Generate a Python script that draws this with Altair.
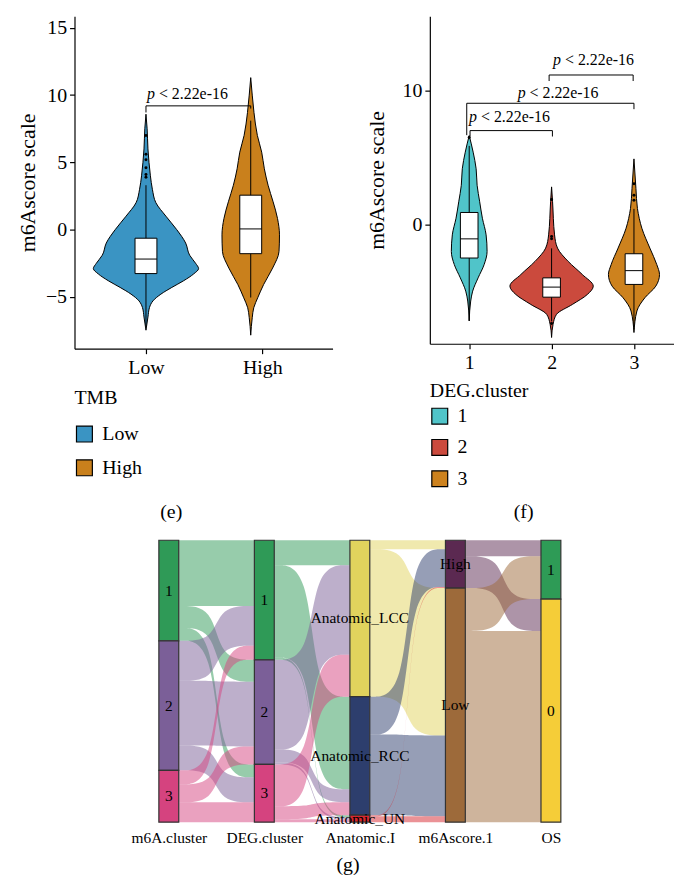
import altair as alt
import pandas as pd

FONT = "Liberation Serif"

# ---------------- (e) m6Ascore scale by TMB ----------------
TMB_GROUPS = ["Low", "High"]
TMB_COLORS = ["#3a94c3", "#c9801c"]
TMB_CENTERS = [1.0, 1.9]          # High is drawn slightly dodged left of its tick

E_LOW_Y = [8.58, 7.5, 6.0, 5.0, 4.0, 3.0, 2.0, 1.0, 0.0, -1.0, -1.9, -2.5, -2.9, -3.3,
           -3.8, -4.3, -4.8, -5.3, -5.8, -6.5, -7.48]
E_LOW_HW = [0, 0.010, 0.017, 0.026, 0.038, 0.055, 0.085, 0.171, 0.264, 0.341, 0.375, 0.426,
            0.452, 0.409, 0.324, 0.222, 0.128, 0.060, 0.030, 0.017, 0]
E_HIGH_Y = [11.3, 10.0, 8.7, 7.0, 5.76, 4.52, 3.3, 2.07, 0.83, -0.39, -1.62, -2.86, -4.08,
            -5.07, -5.81, -6.55, -7.85]
E_HIGH_HW = [0, 0.013, 0.028, 0.057, 0.094, 0.117, 0.149, 0.192, 0.230, 0.247, 0.243, 0.188,
             0.111, 0.060, 0.026, 0.013, 0]

E_Q1 = [-3.27, -1.79]
E_MED = [-2.19, 0.05]
E_Q3 = [-0.64, 2.56]
E_WLO = [-7.2, -5.05]
E_WHI = [3.3, 8.1]
E_OUT_GRP = ["Low", "Low", "Low", "Low", "Low", "Low"]
E_OUT_Y = [3.9, 4.1, 4.6, 5.2, 5.6, 7.0]

E_BRACKETS = [dict(x1=1.0, x2=1.9, y=9.2, yl=8.71, yr=9.0, lx=1.35, ly=10.06)]

# ---------------- (f) m6Ascore scale by DEG.cluster ----------------
DEG_GROUPS = ["1", "2", "3"]
DEG_COLORS = ["#50c4c9", "#cb4a3d", "#cd821e"]
DEG_CENTERS = [1.0, 2.0, 3.0]

F1_Y = [6.67, 5.43, 4.19, 2.96, 1.73, 0.5, -0.74, -1.98, -2.96, -3.95, -4.94, -5.68, -7.16]
F1_HW = [0, 0.048, 0.084, 0.096, 0.127, 0.160, 0.205, 0.217, 0.181, 0.108, 0.042, 0.018, 0]
F2_Y = [2.84, 1.73, -0.74, -1.73, -2.72, -3.7, -4.57, -5.19, -5.93, -6.67, -7.41, -8.4]
F2_HW = [0, 0.012, 0.036, 0.072, 0.201, 0.373, 0.506, 0.434, 0.253, 0.060, 0.018, 0]
F3_Y = [4.93, 2.71, 1.23, -0.25, -1.73, -2.96, -3.7, -4.57, -5.43, -6.42, -8.03]
F3_HW = [0, 0.024, 0.042, 0.096, 0.193, 0.277, 0.310, 0.265, 0.133, 0.036, 0]

F_Q1 = [-2.47, -5.39, -4.44]
F_MED = [-1.04, -4.64, -3.41]
F_Q3 = [0.93, -3.95, -2.15]
F_WLO = [-7.16, -7.2, -7.8]
F_WHI = [5.9, -1.75, 1.2]
F_OUT_GRP = ["1", "2", "2", "2", "2", "3", "3", "3"]
F_OUT_Y = [6.53, 1.9, -0.87, -1.04, -7.36, 3.08, 2.22, 1.85]

F_BRACKETS = [
    dict(x1=1.01, x2=2.01, y=7.04, yl=6.6, yr=6.6, lx=1.48, ly=8.02),
    dict(x1=0.97, x2=3.0, y=9.08, yl=6.7, yr=8.64, lx=2.07, ly=9.87),
    dict(x1=1.97, x2=2.99, y=11.19, yl=10.74, yr=10.74, lx=2.5, ly=12.3),
]
P_TEXT = "< 2.22e-16"

# ---------------- (g) alluvial ----------------
AXES = ["m6A.cluster", "DEG.cluster", "Anatomic.I", "m6Ascore.1", "OS"]
STRATA = [["1", "2", "3"], ["1", "2", "3"],
          ["Anatomic_LCC", "Anatomic_RCC", "Anatomic_UN"], ["High", "Low"], ["1", "0"]]
STRATA_COLORS = [["#2f9a57", "#7b5f98", "#d5437f"],
                 ["#2f9a57", "#7b5f98", "#d5437f"],
                 ["#e1d35d", "#2d3e6d", "#d7262e"],
                 ["#5b2951", "#9d6a3a"],
                 ["#2e9b56", "#f5cd38"]]
# counts flowing from each stratum of one axis (rows) to the next axis (columns)
FLOWS = [
    [[66, 22, 13], [40, 65, 25], [14, 18, 20]],
    [[25, 93, 2], [90, 13, 2], [42, 13, 3]],
    [[9, 148], [38, 81], [1, 6]],
    [[16, 32], [43, 192]],
]


def violin_df(groups, centers, ys, hws):
    rows = []
    for g, c, yy, ww in zip(groups, centers, ys, hws):
        for y, w in zip(yy, ww):
            rows.append({"grp": g, "y": y, "lo": c - w, "hi": c + w})
    return pd.DataFrame(rows)


def box_df(groups, centers, q1, med, q3, wlo, whi, hw):
    return pd.DataFrame({
        "grp": groups, "cx": centers, "q1": q1, "med": med, "q3": q3,
        "wlo": wlo, "whi": whi,
        "l": [c - hw for c in centers], "r": [c + hw for c in centers]})


def bracket_df(brs):
    rows = []
    for b in brs:
        rows.append({"x": b["x1"], "x2": b["x2"], "y": b["y"], "y2": b["y"]})
        rows.append({"x": b["x1"], "x2": b["x1"], "y": b["yl"], "y2": b["y"]})
        rows.append({"x": b["x2"], "x2": b["x2"], "y": b["yr"], "y2": b["y"]})
    return pd.DataFrame(rows)


def violin_panel(groups, colors, centers, ys, hws, boxes, out_grp, out_y, brs,
                 xdom, ydom, width, height, ytitle_pad, legend_title, legend_y,
                 title_pad, row_pad, panel_label, plx, ply, ytick_vals):
    label_expr = "[" + ",".join("'%s'" % g for g in groups) + "][datum.value - 1]"
    xs = alt.Scale(domain=xdom, nice=False, zero=False)
    ys_ = alt.Scale(domain=ydom, nice=False, zero=False)
    xa = alt.Axis(values=list(range(1, len(groups) + 1)), labelExpr=label_expr,
                  labelFontSize=20, labelPadding=4, tickSize=5, labelFlush=False,
                  title=panel_label, titleFontSize=20, titleX=plx, titleY=ply,
                  titleBaseline="middle", titleAlign="center", titleAnchor="start")
    ya = alt.Axis(values=ytick_vals, labelFontSize=20, labelPadding=3, tickSize=5,
                  title="m6Ascore scale", titleFontSize=22, titlePadding=ytitle_pad)

    vdf = violin_df(groups, centers, ys, hws)
    cmap = dict(zip(groups, centers))
    viol = alt.Chart(vdf).mark_area(orient="horizontal", interpolate="monotone",
                                    stroke="black", strokeWidth=1, opacity=1).encode(
        y=alt.Y("y:Q", scale=ys_, axis=ya),
        x=alt.X("lo:Q", scale=xs, axis=xa, stack=None),
        x2="hi:Q",
        color=alt.Color("grp:N", scale=alt.Scale(domain=groups, range=colors),
                        legend=alt.Legend(title=legend_title, orient="none", legendX=0,
                                          legendY=legend_y, direction="vertical",
                                          symbolType="square", symbolSize=256,
                                          symbolStrokeColor="black", symbolStrokeWidth=1.2,
                                          symbolOpacity=1, titleFontSize=20,
                                          labelFontSize=20, titlePadding=title_pad,
                                          rowPadding=row_pad, labelOffset=8)),
    )
    bdf = boxes
    whisk = alt.Chart(bdf).mark_rule(color="black", strokeWidth=1).encode(
        x=alt.X("cx:Q", scale=xs, axis=xa), y=alt.Y("wlo:Q", scale=ys_, axis=ya), y2="whi:Q")
    box = alt.Chart(bdf).mark_rect(fill="white", stroke="black", strokeWidth=1).encode(
        x=alt.X("l:Q", scale=xs, axis=xa), x2="r:Q",
        y=alt.Y("q1:Q", scale=ys_, axis=ya), y2="q3:Q")
    med = alt.Chart(bdf).mark_rule(color="black", strokeWidth=1).encode(
        x=alt.X("l:Q", scale=xs, axis=xa), x2="r:Q", y=alt.Y("med:Q", scale=ys_, axis=ya))
    odf = pd.DataFrame({"cx": [cmap[g] for g in out_grp], "y": out_y})
    outs = alt.Chart(odf).mark_circle(color="black", size=9, opacity=1).encode(
        x=alt.X("cx:Q", scale=xs, axis=xa), y=alt.Y("y:Q", scale=ys_, axis=ya))
    brdf = bracket_df(brs)
    br = alt.Chart(brdf).mark_rule(color="black", strokeWidth=1).encode(
        x=alt.X("x:Q", scale=xs, axis=xa), x2="x2:Q",
        y=alt.Y("y:Q", scale=ys_, axis=ya), y2="y2:Q")
    ldf = pd.DataFrame({"lx": [b["lx"] for b in brs], "ly": [b["ly"] for b in brs]})
    pt = alt.Chart(ldf).mark_text(font=FONT, fontSize=16, fontStyle="italic", align="left",
                                  baseline="middle", dx=-40, color="black").encode(
        x=alt.X("lx:Q", scale=xs, axis=xa), y=alt.Y("ly:Q", scale=ys_, axis=ya),
        text=alt.value("p"))
    rt = alt.Chart(ldf).mark_text(font=FONT, fontSize=16, align="left",
                                  baseline="middle", dx=-28, color="black").encode(
        x=alt.X("lx:Q", scale=xs, axis=xa), y=alt.Y("ly:Q", scale=ys_, axis=ya),
        text=alt.value(P_TEXT))
    return alt.layer(viol, whisk, box, med, outs, br, pt, rt).properties(
        width=width, height=height)


e_chart = violin_panel(
    TMB_GROUPS, TMB_COLORS, TMB_CENTERS, [E_LOW_Y, E_HIGH_Y], [E_LOW_HW, E_HIGH_HW],
    box_df(TMB_GROUPS, TMB_CENTERS, E_Q1, E_MED, E_Q3, E_WLO, E_WHI, 0.094),
    E_OUT_GRP, E_OUT_Y, E_BRACKETS,
    [0.386, 2.603], [-8.856, 15.867], 260, 335, 6, "TMB", 375, 16, 12,
    "(e)", 97, 164, [-5, 0, 5, 10, 15])

f_chart = violin_panel(
    DEG_GROUPS, DEG_COLORS, DEG_CENTERS, [F1_Y, F2_Y, F3_Y], [F1_HW, F2_HW, F3_HW],
    box_df(DEG_GROUPS, DEG_CENTERS, F_Q1, F_MED, F_Q3, F_WLO, F_WHI, 0.107),
    F_OUT_GRP, F_OUT_Y, F_BRACKETS,
    [0.522, 3.486], [-8.867, 15.578], 246, 330, 14, "DEG.cluster", 368, 5, 9.5,
    "(f)", 94, 169, [0, 10])

# ---------------- alluvial data tables ----------------
BW = 0.104          # half width of a stratum bar, in axis units
G_LEFT = 0.883      # empty room left of the first axis, in axis units
totals = [[sum(r) for r in M] for M in FLOWS]
last = FLOWS[-1]
totals.append([sum(last[a][b] for a in range(len(last))) for b in range(len(last[0]))])
TOTAL = sum(totals[0])

strata_rows = []
for k, tots in enumerate(totals):
    s = 0
    for i, t in enumerate(tots):
        strata_rows.append({"k": k, "x0": k - BW, "x1": k + BW, "s0": s, "s1": s + t,
                            "mid": s + t / 2, "name": STRATA[k][i],
                            "col": STRATA_COLORS[k][i]})
        s += t
sdf = pd.DataFrame(strata_rows)

# ribbon control points (fractions of the gap) for a basis-spline S curve
KNOTS = [(0.0, 0), (0.45, 0), (0.55, 1), (1.0, 1)]
rib = []
fid = 0
for k, M in enumerate(FLOWS):
    nL, nR = len(M), len(M[0])
    totL = [sum(r) for r in M]
    totR = [sum(M[a][b] for a in range(nL)) for b in range(nR)]
    startL = [sum(totL[:a]) for a in range(nL)]
    startR = [sum(totR[:b]) for b in range(nR)]
    xl, xr = k + BW, k + 1 - BW
    d = xr - xl
    for a in range(nL):
        for b in range(nR):
            v = M[a][b]
            if v <= 0:
                continue
            l0 = startL[a] + sum(M[a][:b])
            r0 = startR[b] + sum(M[i][b] for i in range(a))
            for fx, side in KNOTS:
                y0 = r0 if side else l0
                rib.append({"fid": fid, "x": xl + fx * d, "y0": y0, "y1": y0 + v,
                            "col": STRATA_COLORS[k][a]})
            fid += 1
rdf = pd.DataFrame(rib)

gxs = alt.Scale(domain=[-BW - G_LEFT, len(AXES) - 1 + BW], nice=False, zero=False)
gys = alt.Scale(domain=[0, TOTAL], reverse=True, nice=False, zero=False)
g_label_expr = "[" + ",".join("'%s'" % a for a in AXES) + "][datum.value]"
gxa = alt.Axis(values=list(range(len(AXES))), labelExpr=g_label_expr, domain=False,
               ticks=False, labelFontSize=15.5, labelPadding=9, labelFlush=False,
               labelOverlap=False, title="(g)", titleFontSize=20, titleX=275, titleY=43,
               titleBaseline="middle", titleAlign="center", titleAnchor="start")

ribbons = alt.Chart(rdf).mark_area(interpolate="basis", opacity=0.5).encode(
    x=alt.X("x:Q", scale=gxs, axis=gxa),
    y=alt.Y("y0:Q", scale=gys, axis=None, stack=None),
    y2="y1:Q",
    fill=alt.Fill("col:N", scale=None),
    detail="fid:N",
)
strata = alt.Chart(sdf).mark_rect(stroke="#333333", strokeWidth=1.2).encode(
    x=alt.X("x0:Q", scale=gxs, axis=gxa), x2="x1:Q",
    y=alt.Y("s0:Q", scale=gys, axis=None), y2="s1:Q",
    fill=alt.Fill("col:N", scale=None),
)
slabels = alt.Chart(sdf).mark_text(font=FONT, fontSize=15.5, color="black").encode(
    x=alt.X("k:Q", scale=gxs, axis=gxa),
    y=alt.Y("mid:Q", scale=gys, axis=None),
    text="name:N",
)
g_chart = alt.layer(ribbons, strata, slabels).properties(width=490, height=284)

top = alt.hconcat(e_chart, f_chart, spacing=98, bounds="flush").resolve_scale(
    color="independent", x="independent", y="independent")

# in flush mode the nested row counts as zero height, so the gap includes row 1's 335px
chart = alt.vconcat(top, g_chart, spacing=528, bounds="flush").resolve_scale(
    color="independent", x="independent", y="independent"
).properties(
    padding={"left": 8, "top": 5, "right": 0, "bottom": 0}
).configure_view(stroke=None).configure_axis(
    labelFont=FONT, titleFont=FONT, labelColor="black", titleColor="black",
    domainColor="black", tickColor="black", domainWidth=1.2, tickWidth=1.2,
    titleFontWeight="normal", grid=False
).configure_legend(
    titleFont=FONT, labelFont=FONT, titleFontWeight="normal", titleColor="black",
    labelColor="black"
).configure_text(font=FONT)

chart.save("out.html", embed_options={"renderer": "svg", "actions": False})
